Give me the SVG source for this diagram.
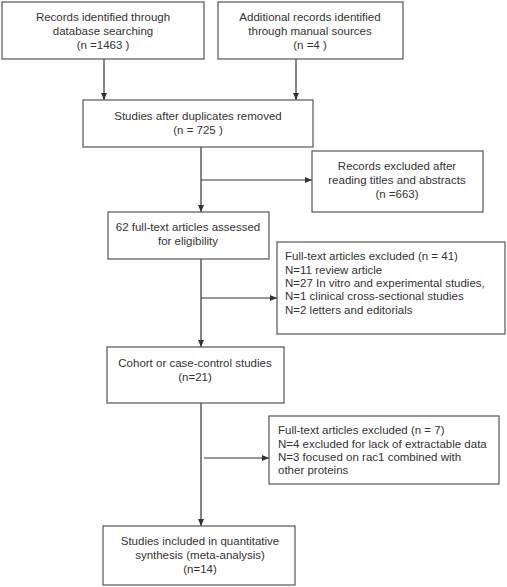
<svg xmlns="http://www.w3.org/2000/svg" width="507" height="587" viewBox="0 0 507 587">
<defs>
<marker id="ah" markerWidth="8" markerHeight="8" refX="7" refY="4" orient="auto" markerUnits="userSpaceOnUse">
<path d="M0,1 L7,4 L0,7 Z" fill="#333"/>
</marker>
<style>
rect{fill:#fff;stroke:#555;stroke-width:1.2}
text{font-family:"Liberation Sans",Arial,sans-serif;font-size:11.5px;fill:#333}
.c{text-anchor:middle}
line{stroke:#333;stroke-width:1.2}
</style>
</defs>
<rect x="0" y="0" width="507" height="587" style="fill:#fff;stroke:none"/>
<g id="connectors">
<line x1="104" y1="59" x2="104" y2="100" marker-end="url(#ah)"/>
<line x1="296" y1="59" x2="296" y2="100" marker-end="url(#ah)"/>
<line x1="201" y1="147" x2="201" y2="212" marker-end="url(#ah)"/>
<line x1="201" y1="180" x2="312" y2="180" marker-end="url(#ah)"/>
<line x1="201" y1="259" x2="201" y2="347" marker-end="url(#ah)"/>
<line x1="201" y1="298" x2="277" y2="298" marker-end="url(#ah)"/>
<line x1="201" y1="403" x2="201" y2="526" marker-end="url(#ah)"/>
<line x1="204" y1="458" x2="269" y2="458" marker-end="url(#ah)"/>
</g>
<g id="n1">
<rect x="2" y="2" width="202" height="57"/>
<text class="c" x="103" y="21">Records identified through</text>
<text class="c" x="103" y="35">database searching</text>
<text class="c" x="103" y="49">(n =1463  )</text>
</g>
<g id="n2">
<rect x="218" y="2" width="185" height="57"/>
<text class="c" x="310" y="21">Additional records identified</text>
<text class="c" x="310" y="35">through manual sources</text>
<text class="c" x="310" y="49">(n =4  )</text>
</g>
<g id="n3">
<rect x="83" y="100" width="230" height="47"/>
<text class="c" x="198" y="120">Studies after duplicates removed</text>
<text class="c" x="198" y="134">(n = 725 )</text>
</g>
<g id="n4">
<rect x="312" y="151" width="171" height="61"/>
<text class="c" x="397" y="170">Records excluded after</text>
<text class="c" x="397" y="184">reading titles and abstracts</text>
<text class="c" x="397" y="198">(n =663)</text>
</g>
<g id="n5">
<rect x="108" y="212" width="161" height="47"/>
<text class="c" x="188" y="231">62 full-text articles assessed</text>
<text class="c" x="188" y="245">for eligibility</text>
</g>
<g id="n6">
<rect x="277" y="242" width="228" height="92"/>
<text x="285" y="260">Full-text articles excluded (n = 41)</text>
<text x="285" y="274">N=11 review article</text>
<text x="285" y="287">N=27 In vitro and experimental studies,</text>
<text x="285" y="300">N=1 clinical cross-sectional studies</text>
<text x="285" y="314">N=2 letters and editorials</text>
</g>
<g id="n7">
<rect x="107" y="347" width="177" height="56"/>
<text class="c" x="195" y="367">Cohort or case-control studies</text>
<text class="c" x="195" y="381">(n=21)</text>
</g>
<g id="n8">
<rect x="269" y="416" width="230" height="68"/>
<text x="278" y="434">Full-text articles excluded (n = 7)</text>
<text x="278" y="448">N=4 excluded for lack of extractable data</text>
<text x="278" y="461">N=3 focused on rac1 combined with</text>
<text x="278" y="474">other proteins</text>
</g>
<g id="n9">
<rect x="103" y="526" width="192" height="59"/>
<text class="c" x="200" y="545">Studies included in quantitative</text>
<text class="c" x="200" y="559">synthesis (meta-analysis)</text>
<text class="c" x="200" y="573">(n=14)</text>
</g>
</svg>
